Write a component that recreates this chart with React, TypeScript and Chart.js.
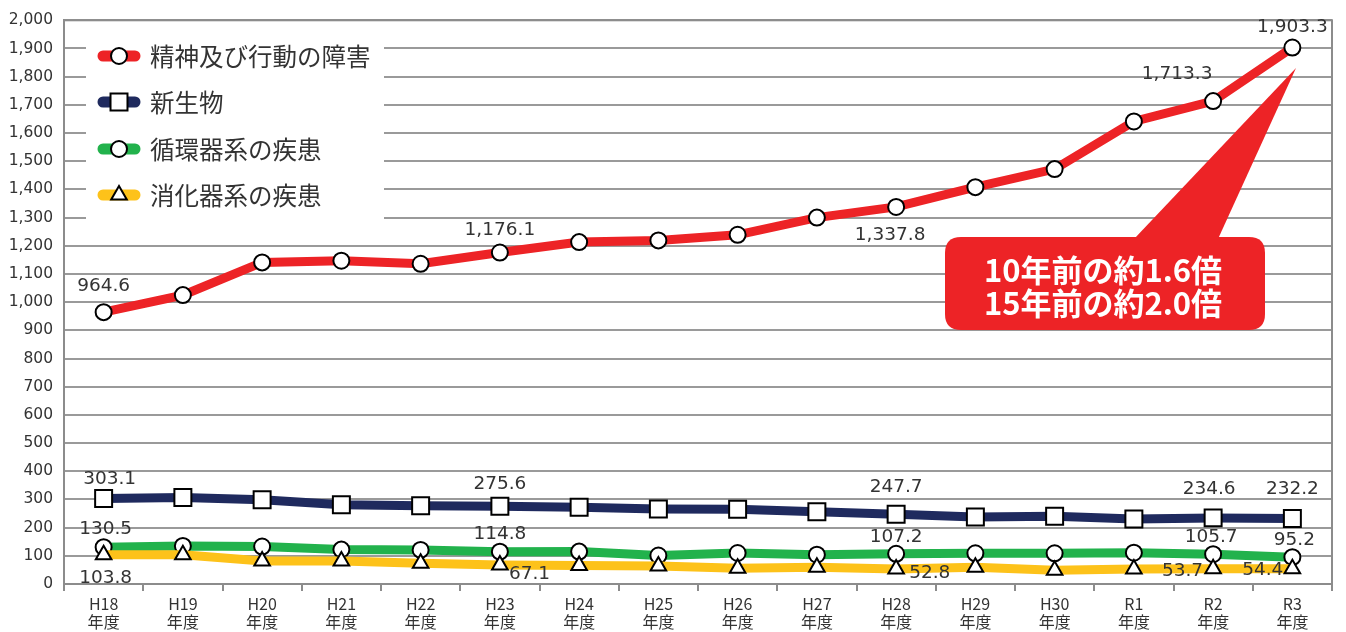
import React, { useEffect, useRef } from 'react';
import { Chart, registerables } from 'chart.js';

Chart.register(...registerables);

// ---- data ----
const categories = ['H18', 'H19', 'H20', 'H21', 'H22', 'H23', 'H24', 'H25', 'H26', 'H27', 'H28', 'H29', 'H30', 'R1', 'R2', 'R3'];
const yearSuffix = '年度';
const seriesNames = ['精神及び行動の障害', '新生物', '循環器系の疾患', '消化器系の疾患'];
const mentalDisorders = [964.6, 1025, 1141, 1147, 1136, 1176.1, 1213, 1219, 1239, 1300, 1337.8, 1408, 1472, 1641, 1713.3, 1903.3];
const neoplasms = [303.1, 307, 299, 281, 278, 275.6, 272, 266, 265, 256, 247.7, 238, 240, 231, 234.6, 232.2];
const circulatory = [130.5, 135, 133, 122, 121, 114.8, 115, 101, 110, 104, 107.2, 109, 109, 111, 105.7, 95.2];
const digestive = [103.8, 104, 82, 82, 74, 67.1, 66, 64, 56, 59, 52.8, 59, 49, 53, 53.7, 54.4];
const labeledIndices = [0, 5, 10, 14, 15];
const yMin = 0;
const yMax = 2000;
const yStep = 100;
const calloutLines = ['10年前の約1.6倍', '15年前の約2.0倍'];

// ---- style ----
const colors = ['#ED2326', '#1F2A5E', '#22B24C', '#FDC21A'];
const pointStyles = ['circle', 'rect', 'circle', 'triangle'];
const pointRadii = [8, 12, 8, 9];
type LabelPos = { dx: number; dy: number; align: CanvasTextAlign };
const labelOffsets: LabelPos[][] = [
  [
    { dx: 0, dy: -26, align: 'center' },
    { dx: 0, dy: -22, align: 'center' },
    { dx: -6, dy: 28, align: 'center' },
    { dx: -36, dy: -27, align: 'center' },
    { dx: 0, dy: -20, align: 'center' },
  ],
  [
    { dx: 6, dy: -19, align: 'center' },
    { dx: 0, dy: -22, align: 'center' },
    { dx: 0, dy: -27, align: 'center' },
    { dx: -4, dy: -29, align: 'center' },
    { dx: 0, dy: -29, align: 'center' },
  ],
  [
    { dx: 2, dy: -18, align: 'center' },
    { dx: 0, dy: -17, align: 'center' },
    { dx: 0, dy: -17, align: 'center' },
    { dx: -2, dy: -17, align: 'center' },
    { dx: 2, dy: -17, align: 'center' },
  ],
  [
    { dx: 2, dy: 23, align: 'center' },
    { dx: 9, dy: 9, align: 'left' },
    { dx: 13, dy: 4, align: 'left' },
    { dx: -10, dy: 2, align: 'right' },
    { dx: -9, dy: 2, align: 'right' },
  ],
];

const fmt = (v: number) => v.toLocaleString('en-US', { minimumFractionDigits: 1, maximumFractionDigits: 1 });

function drawMarker(ctx: CanvasRenderingContext2D, style: string, x: number, y: number, r: number) {
  ctx.save();
  ctx.fillStyle = '#fff';
  ctx.strokeStyle = '#000';
  ctx.lineWidth = 2;
  ctx.beginPath();
  if (style === 'circle') {
    ctx.arc(x, y, r, 0, Math.PI * 2);
  } else if (style === 'rect') {
    const s = Math.SQRT1_2 * r;
    ctx.rect(x - s, y - s, 2 * s, 2 * s);
  } else {
    let rad = 0;
    ctx.moveTo(x + Math.sin(rad) * r, y - Math.cos(rad) * r);
    rad += (2 * Math.PI) / 3;
    ctx.lineTo(x + Math.sin(rad) * r, y - Math.cos(rad) * r);
    rad += (2 * Math.PI) / 3;
    ctx.lineTo(x + Math.sin(rad) * r, y - Math.cos(rad) * r);
    ctx.closePath();
  }
  ctx.fill();
  ctx.stroke();
  ctx.restore();
}

function roundRectPath(ctx: CanvasRenderingContext2D, x: number, y: number, w: number, h: number, r: number) {
  ctx.moveTo(x + r, y);
  ctx.lineTo(x + w - r, y);
  ctx.quadraticCurveTo(x + w, y, x + w, y + r);
  ctx.lineTo(x + w, y + h - r);
  ctx.quadraticCurveTo(x + w, y + h, x + w - r, y + h);
  ctx.lineTo(x + r, y + h);
  ctx.quadraticCurveTo(x, y + h, x, y + h - r);
  ctx.lineTo(x, y + r);
  ctx.quadraticCurveTo(x, y, x + r, y);
}

const overlayPlugin = {
  id: 'overlay',
  beforeDatasetsDraw(chart: any) {
    const ctx: CanvasRenderingContext2D = chart.ctx;
    const a = chart.chartArea;
    ctx.save();
    // frame
    ctx.strokeStyle = '#8c8c8c';
    ctx.lineWidth = 2;
    ctx.strokeRect(a.left, a.top, a.right - a.left, a.bottom - a.top);
    // legend background
    ctx.fillStyle = '#ffffff';
    ctx.fillRect(86, 30, 298, 195);
    // callout
    const bx = 945, by = 237, bw = 320, bh = 93;
    ctx.fillStyle = '#ED2326';
    ctx.beginPath();
    roundRectPath(ctx, bx, by, bw, bh, 16);
    ctx.fill();
    ctx.beginPath();
    ctx.moveTo(1134, by + 2);
    ctx.lineTo(1296, 68);
    ctx.lineTo(1218, by + 2);
    ctx.closePath();
    ctx.fill();
    ctx.fillStyle = '#ffffff';
    ctx.font = 'bold 31px "Noto Sans CJK JP", "Noto Sans", sans-serif';
    ctx.textAlign = 'center';
    ctx.textBaseline = 'middle';
    ctx.fillText(calloutLines[0], bx + bw / 2 - 2, 270);
    ctx.fillText(calloutLines[1], bx + bw / 2 - 2, 303);
    ctx.restore();
  },
  afterDatasetsDraw(chart: any) {
    const ctx: CanvasRenderingContext2D = chart.ctx;
    ctx.save();
    // legend items
    const legendY = [56, 102, 149, 195];
    seriesNames.forEach((name, i) => {
      const y = legendY[i];
      ctx.strokeStyle = colors[i];
      ctx.lineWidth = 11;
      ctx.lineCap = 'round';
      ctx.beginPath();
      ctx.moveTo(103, y);
      ctx.lineTo(135, y);
      ctx.stroke();
      drawMarker(ctx, pointStyles[i], 119, y, pointRadii[i]);
      ctx.fillStyle = '#333333';
      ctx.font = '24.5px "Noto Sans CJK JP", sans-serif';
      ctx.textAlign = 'left';
      ctx.textBaseline = 'middle';
      ctx.fillText(name, 150, y + 1);
    });
    // data labels
    ctx.fillStyle = '#333333';
    ctx.font = '18.5px "DejaVu Sans", sans-serif';
    ctx.textBaseline = 'middle';
    chart.data.datasets.forEach((ds: any, di: number) => {
      const meta = chart.getDatasetMeta(di);
      labeledIndices.forEach((idx, k) => {
        const el = meta.data[idx];
        const off = labelOffsets[di][k];
        ctx.textAlign = off.align;
        ctx.fillText(fmt(ds.data[idx]), el.x + off.dx, el.y + off.dy);
      });
    });
    ctx.restore();
  },
};

export default function App() {
  const ref = useRef<HTMLCanvasElement>(null);
  useEffect(() => {
    if (!ref.current) return;
    const seriesData = [mentalDisorders, neoplasms, circulatory, digestive];
    const chart = new Chart(ref.current, {
      type: 'line',
      data: {
        labels: categories.map((c) => [c, yearSuffix]),
        datasets: seriesData.map((d, i) => ({
          label: seriesNames[i],
          data: d,
          borderColor: colors[i],
          borderWidth: 9,
          backgroundColor: '#ffffff',
          pointStyle: pointStyles[i] as any,
          pointRadius: pointRadii[i],
          pointBorderColor: '#000000',
          pointBackgroundColor: '#ffffff',
          pointBorderWidth: 2,
          tension: 0,
          fill: false,
          order: [3, 2, 1, 0][i],
        })),
      },
      options: {
        responsive: false,
        animation: false,
        events: [],
        layout: { padding: { top: 14, right: 10, left: 0, bottom: 0 } },
        plugins: { legend: { display: false }, tooltip: { enabled: false }, title: { display: false } },
        scales: {
          x: {
            type: 'category',
            offset: true,
            grid: { display: true, drawOnChartArea: false, drawTicks: true, tickLength: 7, color: '#8c8c8c', lineWidth: 2, offset: true },
            border: { display: true, color: '#8c8c8c', width: 2 },
            ticks: {
              color: '#333333',
              font: { family: '"Noto Sans CJK JP", sans-serif', size: 16, lineHeight: 1.18 },
              padding: 3,
              maxRotation: 0,
              autoSkip: false,
            },
            afterFit: (s: any) => {
              s.height = 48;
            },
          },
          y: {
            min: yMin,
            max: yMax,
            grid: { color: '#9a9a9a', lineWidth: 2, drawTicks: false },
            border: { display: true, color: '#8c8c8c', width: 2 },
            ticks: {
              stepSize: yStep,
              color: '#333333',
              font: { family: '"DejaVu Sans", sans-serif', size: 15.5 },
              padding: 11,
              callback: (v: any) => Number(v).toLocaleString('en-US'),
            },
            afterFit: (s: any) => {
              s.width = 64;
            },
          },
        },
      },
      plugins: [overlayPlugin],
    });
    return () => chart.destroy();
  }, []);
  return (
    <div style={{ position: 'absolute', left: 0, top: 0, width: 1346, height: 632, background: '#fff' }}>
      <canvas ref={ref} width={1346} height={632} />
    </div>
  );
}
